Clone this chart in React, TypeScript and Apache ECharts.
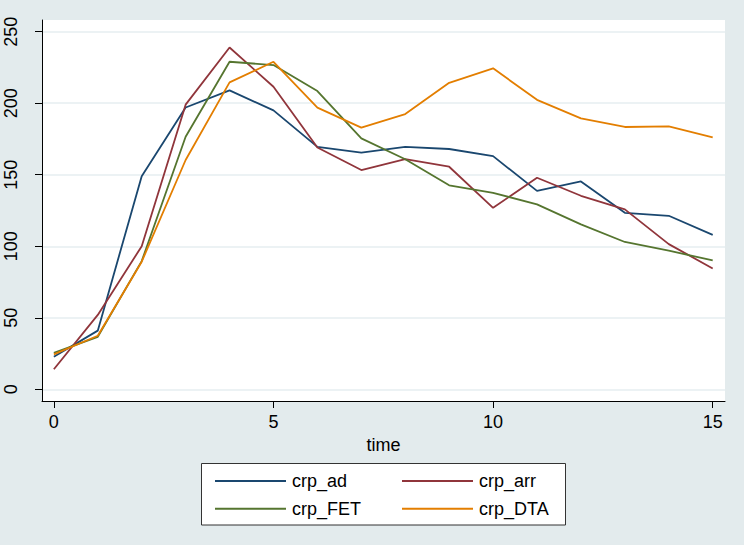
import React, { useEffect, useRef } from "react";
import * as echarts from "echarts";

const time = [0, 1, 2, 3, 4, 5, 6, 7, 8, 9, 10, 11, 12, 13, 14, 15];
const crpAd = [22.7, 41, 149, 197, 209, 195, 169.5, 165.5, 169.5, 168, 163, 138.7, 145.3, 123.4, 121.3, 108];
const crpArr = [14, 52, 100, 199, 239, 211.5, 169, 153.3, 161, 155.6, 126.9, 147.9, 135.3, 125.8, 101.5, 84.5];
const crpFET = [25.5, 36.7, 89.6, 176.6, 229, 226.7, 208.5, 175.4, 160.8, 142.6, 137.4, 129.3, 115.3, 103, 96.9, 90.1];
const crpDTA = [24.4, 37.4, 89.2, 160.3, 214.6, 229, 196.9, 182.9, 192.4, 214.3, 224.4, 202.4, 189.4, 183.4, 183.8, 176.2];

const xTicks = [0, 5, 10, 15];
const yTicks = [0, 50, 100, 150, 200, 250];
const seriesNames = ["crp_ad", "crp_arr", "crp_FET", "crp_DTA"];
const seriesColors = ["#1A476F", "#90353B", "#55752F", "#E37E00"];

const X_MIN = -0.27;
const X_MAX = 15.28;
const Y_MIN = -8.2;
const Y_MAX = 258.2;

const FONT = "'Liberation Sans', Arial, sans-serif";

export default function App() {
  const ref = useRef<HTMLDivElement>(null);
  useEffect(() => {
    if (!ref.current) return;
    const chart = echarts.init(ref.current, undefined, { renderer: "svg" });
    const values = [crpAd, crpArr, crpFET, crpDTA];
    const legendText = { fontFamily: FONT, fontSize: 18, color: "#000", padding: [0, 0, 0, 1] };
    const legendBase = {
      orient: "vertical",
      top: 467,
      itemWidth: 71,
      itemHeight: 2,
      itemGap: 9.7,
      icon: "rect",
      textStyle: legendText,
    };
    chart.setOption({
      animation: false,
      backgroundColor: "#E3EBED",
      textStyle: { fontFamily: FONT },
      grid: { left: 42, right: 19, top: 20, bottom: 144, show: true, backgroundColor: "#FFFFFF", borderWidth: 0 },
      xAxis: {
        type: "value",
        min: X_MIN,
        max: X_MAX,
        name: "time",
        nameLocation: "middle",
        nameGap: 26,
        nameTextStyle: { fontFamily: FONT, fontSize: 18, color: "#000" },
        axisLine: { show: true, onZero: false, lineStyle: { color: "#000", width: 1 } },
        axisTick: { show: true, length: 7, customValues: xTicks, lineStyle: { color: "#000" } },
        axisLabel: { customValues: xTicks, fontFamily: FONT, fontSize: 18, color: "#000", margin: 12 },
        splitLine: { show: false },
      },
      yAxis: {
        type: "value",
        min: Y_MIN,
        max: Y_MAX,
        axisLine: { show: true, onZero: false, lineStyle: { color: "#000", width: 1 } },
        axisTick: { show: true, length: 7, customValues: yTicks, lineStyle: { color: "#000" } },
        axisLabel: {
          customValues: yTicks,
          rotate: 90,
          align: "center",
          fontFamily: FONT,
          fontSize: 18,
          color: "#000",
          margin: 22,
        },
        splitLine: { show: true, lineStyle: { color: "#E6EEF0", width: 1.5 } },
      },
      legend: [
        { ...legendBase, left: 210, data: [seriesNames[0], seriesNames[2]] },
        { ...legendBase, left: 397, data: [seriesNames[1], seriesNames[3]] },
      ],
      graphic: [
        {
          type: "rect",
          shape: { x: 201.5, y: 463.5, width: 364, height: 61.5 },
          style: { fill: "#FFFFFF", stroke: "#333333", lineWidth: 1 },
          z: -1,
        },
      ],
      series: values.map((v, i) => ({
        name: seriesNames[i],
        type: "line",
        data: time.map((t, j) => [t, v[j]]),
        symbol: "none",
        color: seriesColors[i],
        lineStyle: { color: seriesColors[i], width: 1.8 },
      })),
    });
    return () => chart.dispose();
  }, []);
  return <div ref={ref} style={{ position: "fixed", left: 0, top: 0, width: 744, height: 545 }} />;
}
